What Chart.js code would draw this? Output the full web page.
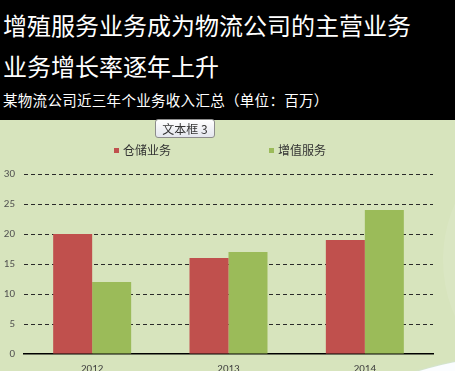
<!DOCTYPE html>
<html>
<head>
<meta charset="utf-8">
<script src="https://cdn.jsdelivr.net/npm/chart.js@4/dist/chart.umd.min.js"></script>
<style>
  html, body { margin: 0; padding: 0; width: 455px; height: 371px; overflow: hidden;
    background: #d7e4bd; font-family: "Noto Sans CJK SC", "Noto Sans", sans-serif; }
  #head { position: absolute; left: 0; top: 0; width: 455px; height: 120px; background: #000; }
  .t { position: absolute; left: 3px; color: #fff; white-space: nowrap; }
  #t1 { top: 7px; font-size: 24px; line-height: 36px; }
  #t2 { top: 48px; font-size: 24px; line-height: 36px; }
  #t3 { top: 89px; font-size: 14.5px; line-height: 22px; letter-spacing: 0.3px; }
  #box { position: absolute; left: 155px; top: 119px; width: 58px; height: 17px;
    border: 1px solid #8c8c8c; border-radius: 3px; box-sizing: content-box;
    background: linear-gradient(#ffffff, #e4e6ee); color: #333; font-size: 12px;
    line-height: 17px; text-align: center; z-index: 3; }
  #glow { position: absolute; left: 443px; top: 135px; width: 220px; height: 250px;
    border-radius: 50%; background: rgba(255,255,255,0.09); }
  #wrap { position: absolute; left: 0; top: 120px; width: 455px; height: 270px; }
  #legend { position: absolute; left: 114px; top: 141px; display: flex; gap: 98px;
    font-size: 12px; color: #333; line-height: 18px; z-index: 2; }
  .item { display: flex; align-items: center; }
  .sw { width: 5px; height: 5px; margin-right: 4px; }
  #curve { position: absolute; left: 176px; top: 356px; width: 688px; height: 688px;
    border-radius: 50%; background: #fbfdff; box-shadow: 0 0 2px #cfe4f2; z-index: 4; }
</style>
</head>
<body>
<div id="head">
  <div class="t" id="t1">增殖服务业务成为物流公司的主营业务</div>
  <div class="t" id="t2">业务增长率逐年上升</div>
  <div class="t" id="t3">某物流公司近三年个业务收入汇总（单位：百万）</div>
</div>
<div id="glow"></div>
<div id="box">文本框 3</div>
<div id="legend"></div>
<div id="wrap"><canvas id="c"></canvas></div>
<div id="curve"></div>
<script>
// Revenue by business line, millions
const years = ['2012', '2013', '2014'];
const storageRevenue = [20, 16, 19];
const valueAddedRevenue = [12, 17, 24];
const seriesNames = ['仓储业务', '增值服务'];
const seriesColors = ['#c0504d', '#9bbb59'];
const yMin = 0, yMax = 30, yStep = 5;

// Legend built from the chart's own datasets
const htmlLegend = {
  id: 'htmlLegend',
  afterUpdate(chart) {
    const box = document.getElementById('legend');
    box.innerHTML = '';
    chart.data.datasets.forEach(ds => {
      const item = document.createElement('div');
      item.className = 'item';
      const sw = document.createElement('span');
      sw.className = 'sw';
      sw.style.background = ds.backgroundColor;
      const label = document.createElement('span');
      label.textContent = ds.label;
      item.appendChild(sw);
      item.appendChild(label);
      box.appendChild(item);
    });
  }
};

new Chart(document.getElementById('c'), {
  type: 'bar',
  data: {
    labels: years,
    datasets: [
      { label: seriesNames[0], data: storageRevenue, backgroundColor: seriesColors[0] },
      { label: seriesNames[1], data: valueAddedRevenue, backgroundColor: seriesColors[1] }
    ]
  },
  options: {
    responsive: true,
    maintainAspectRatio: false,
    animation: false,
    layout: { padding: { top: 54, right: 22, left: 0, bottom: 0 } },
    datasets: { bar: { barPercentage: 1, categoryPercentage: 0.572 } },
    plugins: { legend: { display: false }, tooltip: { enabled: false } },
    scales: {
      x: {
        grid: { display: false, drawTicks: false },
        border: { display: true, color: '#000', width: 1.5 },
        ticks: { color: '#404040', font: { size: 11, family: 'Calibri, Carlito, "Liberation Sans", sans-serif' }, padding: 9 },
        afterFit(s) { s.height = 36; }
      },
      y: {
        min: yMin, max: yMax,
        ticks: { stepSize: yStep, color: '#505050', padding: 9,
          font: { size: 11, family: 'Calibri, Carlito, "Liberation Sans", sans-serif' } },
        grid: { drawTicks: false, lineWidth: 1,
          color: ctx => ctx.tick && ctx.tick.value === 0 ? 'rgba(0,0,0,0)' : '#2a2a2a' },
        border: { display: false, dash: [4, 3] },
        afterFit(s) { s.width = 24; }
      }
    }
  },
  plugins: [htmlLegend]
});
</script>
</body>
</html>
